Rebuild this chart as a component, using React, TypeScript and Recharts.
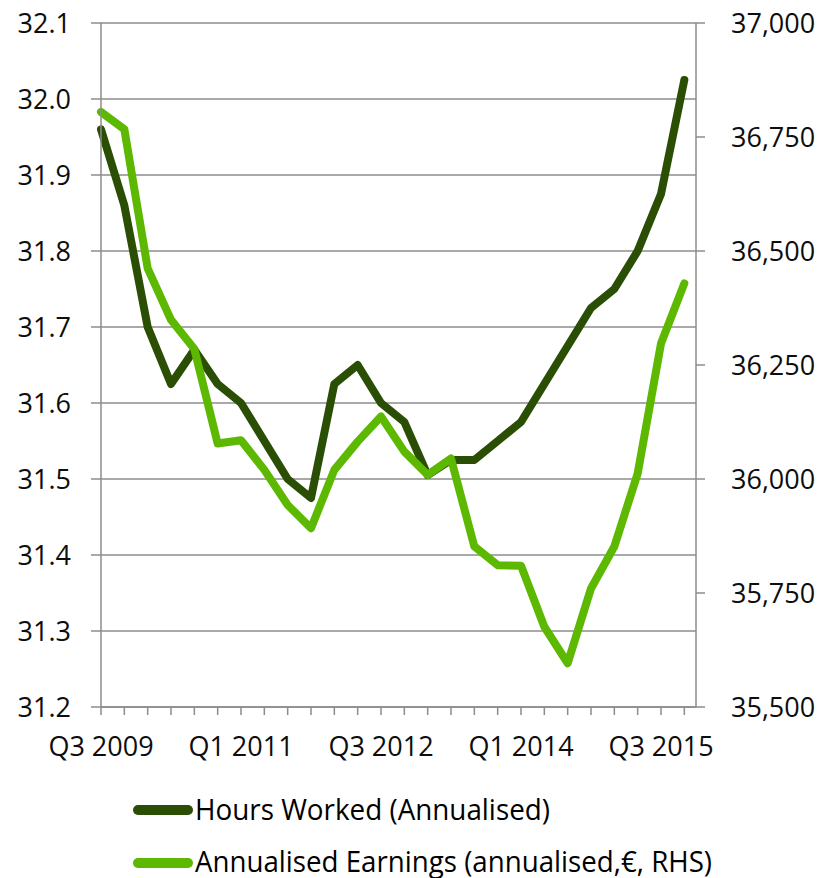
import React from 'react';
import { LineChart, Line, XAxis, YAxis, CartesianGrid, Legend } from 'recharts';

const quarters = [
  'Q3 2009', 'Q4 2009', 'Q1 2010', 'Q2 2010', 'Q3 2010', 'Q4 2010',
  'Q1 2011', 'Q2 2011', 'Q3 2011', 'Q4 2011', 'Q1 2012', 'Q2 2012',
  'Q3 2012', 'Q4 2012', 'Q1 2013', 'Q2 2013', 'Q3 2013', 'Q4 2013',
  'Q1 2014', 'Q2 2014', 'Q3 2014', 'Q4 2014', 'Q1 2015', 'Q2 2015',
  'Q3 2015', 'Q4 2015',
];

const hoursWorked = [
  31.96, 31.86, 31.7, 31.625, 31.67, 31.625, 31.6, 31.55, 31.5, 31.475,
  31.625, 31.65, 31.6, 31.575, 31.505, 31.525, 31.525, 31.55, 31.575, 31.625,
  31.675, 31.725, 31.75, 31.8, 31.875, 32.025,
];

const annualisedEarnings = [
  36805, 36767, 36462, 36349, 36285, 36078, 36085, 36020, 35943, 35892,
  36020, 36082, 36137, 36060, 36009, 36045, 35852, 35811, 35810, 35676,
  35596, 35760, 35852, 36012, 36297, 36429,
];

const leftTicks = [31.2, 31.3, 31.4, 31.5, 31.6, 31.7, 31.8, 31.9, 32.0, 32.1];
const rightTicks = [35500, 35750, 36000, 36250, 36500, 36750, 37000];

const seriesNames = ['Hours Worked (Annualised)', 'Annualised Earnings (annualised,€, RHS)'];
const DARK = '#2a4e03';
const LIGHT = '#5cb800';
const GRID = '#8c8c8c';
const FONT = '"Open Sans", sans-serif';

const data = quarters.map((q, i) => ({
  quarter: q,
  hours: hoursWorked[i],
  earnings: annualisedEarnings[i],
}));

const legendTextWidths = [355, 517];

const renderLegend = (props: any) => {
  const payload = [...(props.payload || [])].sort(
    (a: any, b: any) => seriesNames.indexOf(a.value) - seriesNames.indexOf(b.value)
  );
  return (
    <svg width={827} height={110} style={{ overflow: 'visible', display: 'block' }}>
      {payload.map((item: any, idx: number) => {
        const cy = 43 + idx * 53;
        const nameIdx = seriesNames.indexOf(item.value);
        return (
          <g key={idx}>
            <line x1={138} x2={188} y1={cy} y2={cy} stroke={item.color} strokeWidth={10} strokeLinecap="round" />
            <text
              x={195}
              y={cy + 10 - idx}
              fontFamily={FONT}
              fontSize={29}
              fill="#000"
              textLength={legendTextWidths[nameIdx >= 0 ? nameIdx : idx]}
              lengthAdjust="spacingAndGlyphs"
            >
              {item.value}
            </text>
          </g>
        );
      })}
    </svg>
  );
};

export default function App() {
  const tickStyle = { fontFamily: FONT, fontSize: 27, fill: '#0d0d0d' };
  return (
    <div style={{ position: 'fixed', left: 0, top: 0, width: 827, height: 878, overflow: 'hidden', background: '#fff' }}>
      <LineChart
        width={827}
        height={878}
        data={data}
        margin={{ top: 23, right: 0, bottom: 1, left: 0 }}
      >
        <CartesianGrid yAxisId="left" vertical={false} stroke={GRID} strokeWidth={1.5} />
        <XAxis
          dataKey="quarter"
          interval={0}
          padding={{ left: 0, right: 11.67 }}
          height={60}
          tickSize={8}
          tickMargin={22}
          axisLine={{ stroke: GRID, strokeWidth: 1.5 }}
          tickLine={{ stroke: GRID, strokeWidth: 1.5 }}
          tick={tickStyle}
          tickFormatter={(v: string, idx: number) => (idx % 6 === 0 ? v : '')}
        />
        <YAxis
          yAxisId="left"
          orientation="left"
          width={101}
          domain={[31.2, 32.1]}
          ticks={leftTicks}
          tickSize={10}
          tickMargin={20}
          axisLine={{ stroke: GRID, strokeWidth: 1.5 }}
          tickLine={{ stroke: GRID, strokeWidth: 1.5 }}
          tick={tickStyle}
          tickFormatter={(v: number) => v.toFixed(1)}
          allowDataOverflow
        />
        <YAxis
          yAxisId="right"
          orientation="right"
          width={131}
          domain={[35500, 37000]}
          ticks={rightTicks}
          tickSize={9}
          tickMargin={26}
          axisLine={{ stroke: GRID, strokeWidth: 1.5 }}
          tickLine={{ stroke: GRID, strokeWidth: 1.5 }}
          tick={{ ...tickStyle, textAnchor: 'start' }}
          tickFormatter={(v: number) => v.toLocaleString('en-US')}
          allowDataOverflow
        />
        <Legend verticalAlign="bottom" align="left" content={renderLegend} />
        <Line
          yAxisId="left"
          type="linear"
          dataKey="hours"
          name={seriesNames[0]}
          stroke={DARK}
          strokeWidth={8}
          strokeLinecap="round"
          strokeLinejoin="round"
          dot={false}
          activeDot={false}
          isAnimationActive={false}
        />
        <Line
          yAxisId="right"
          type="linear"
          dataKey="earnings"
          name={seriesNames[1]}
          stroke={LIGHT}
          strokeWidth={8}
          strokeLinecap="round"
          strokeLinejoin="round"
          dot={false}
          activeDot={false}
          isAnimationActive={false}
        />
      </LineChart>
    </div>
  );
}
